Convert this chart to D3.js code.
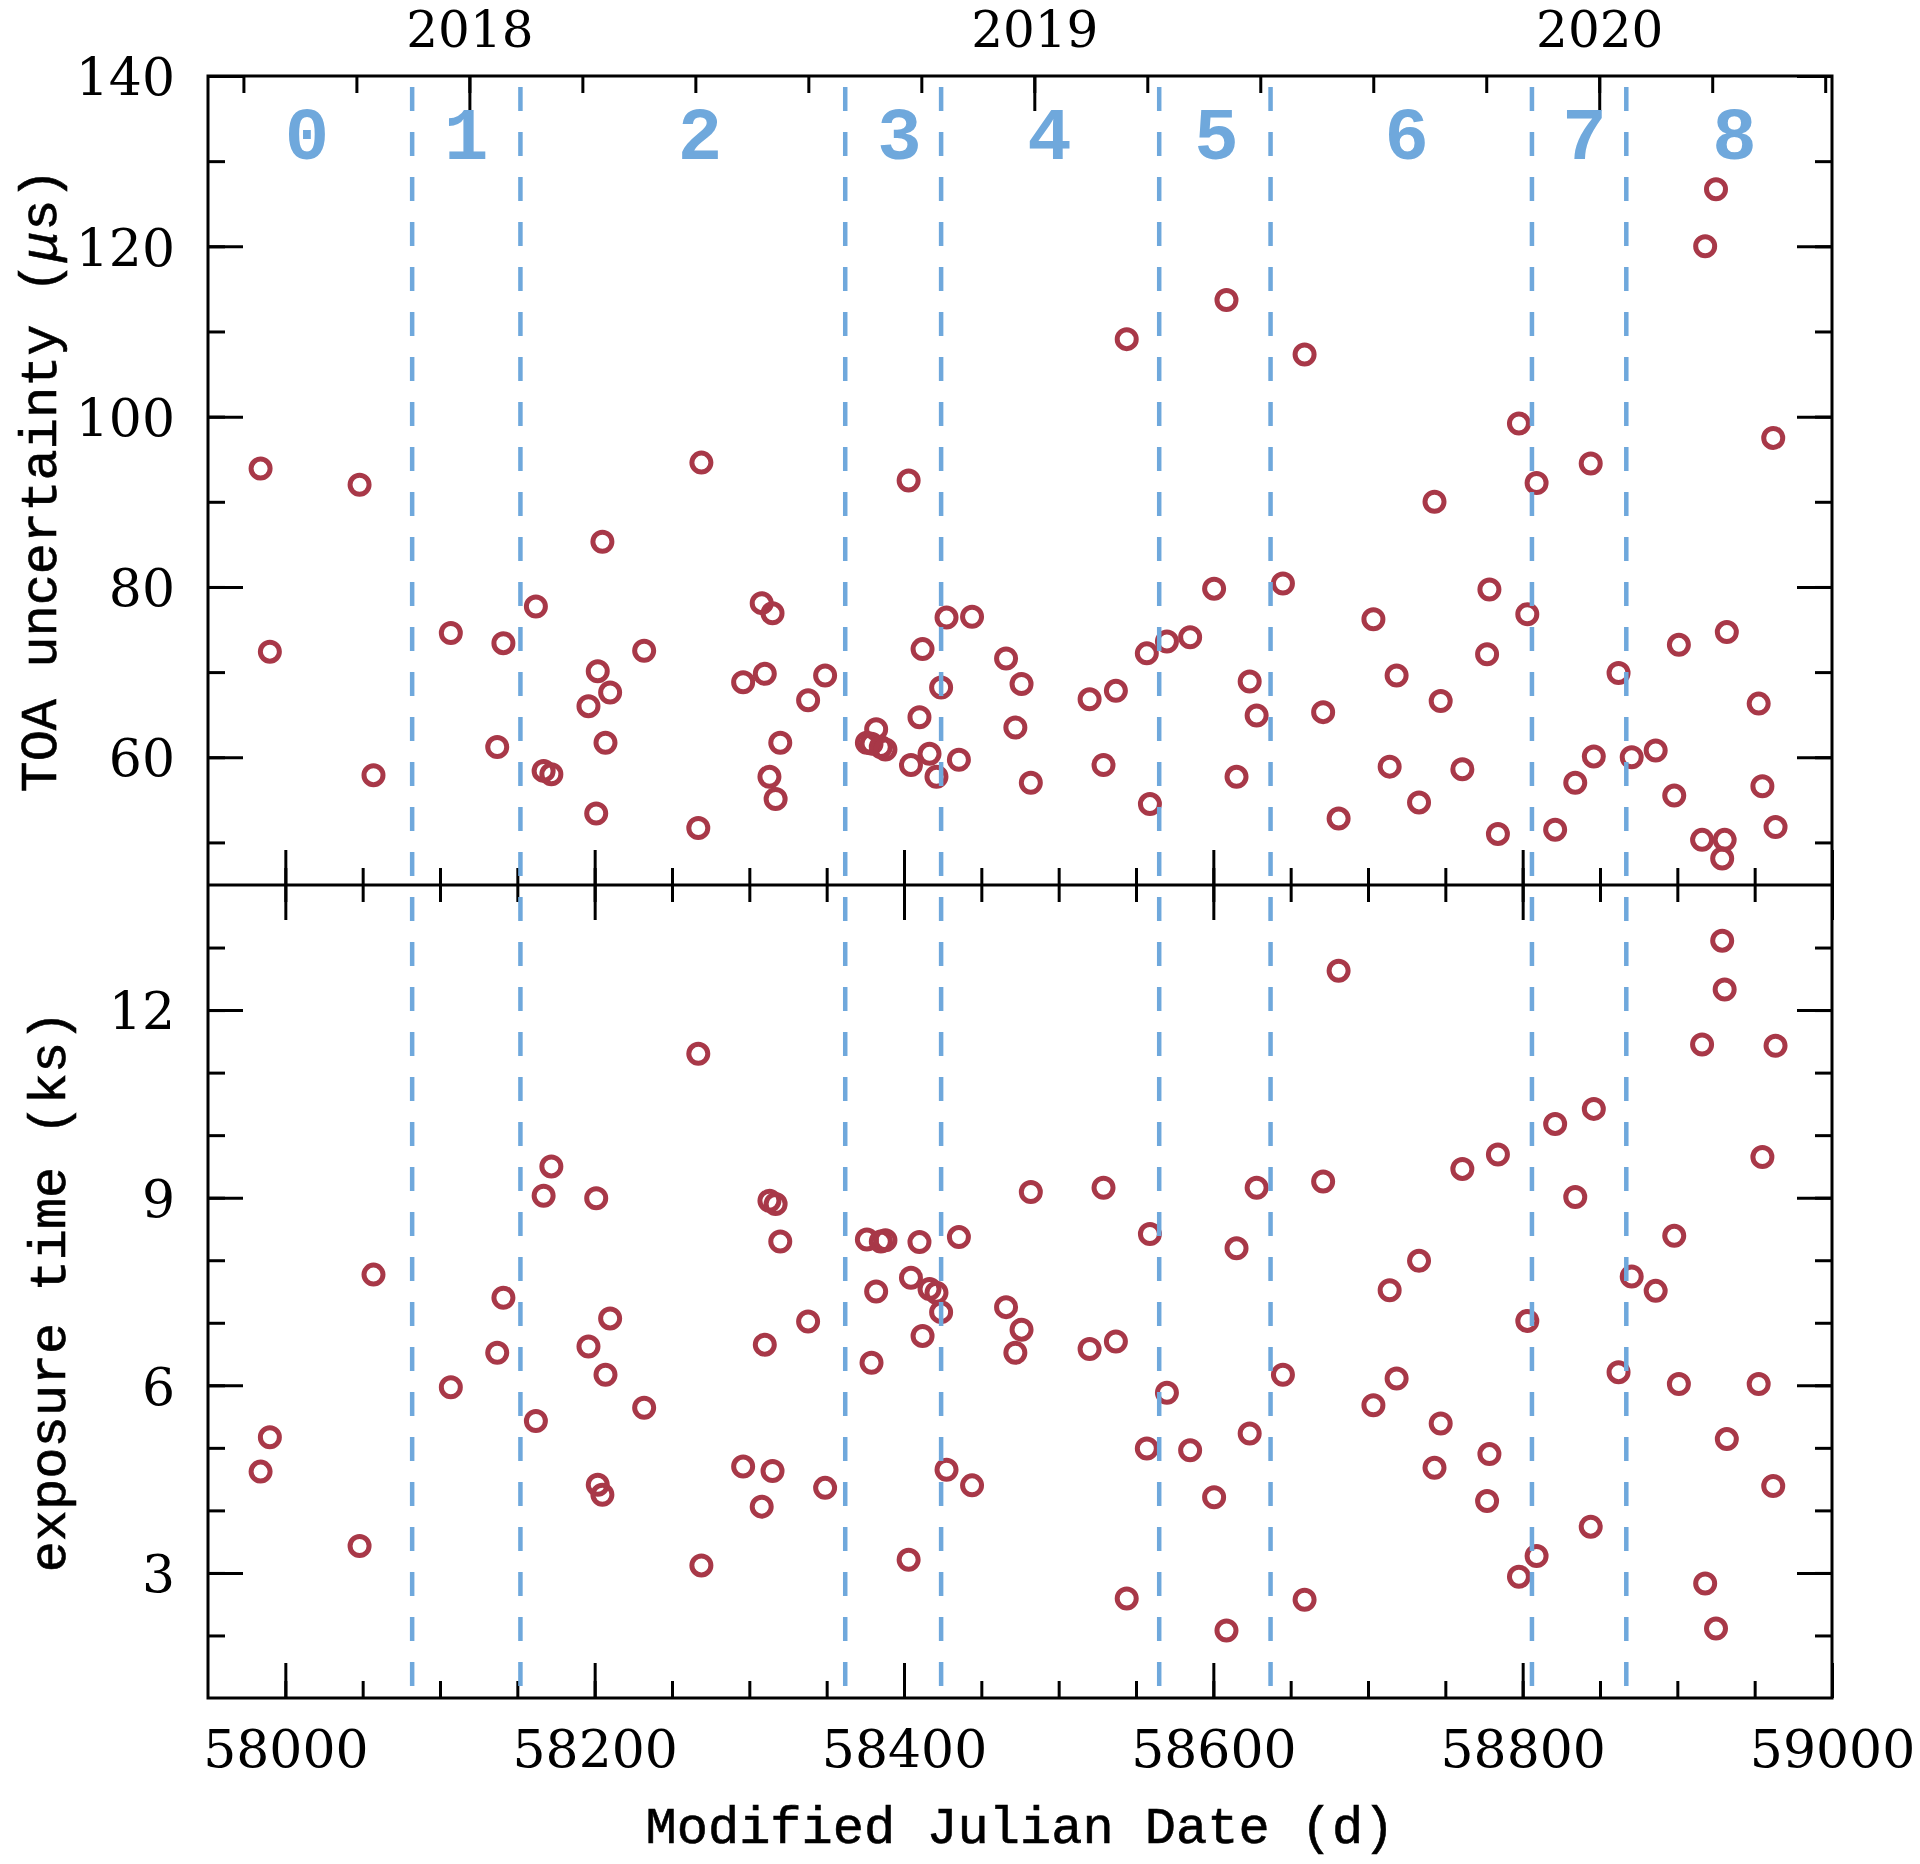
<!DOCTYPE html>
<html>
<head>
<meta charset="utf-8">
<script src="https://cdn.jsdelivr.net/npm/d3@7"></script>
<style>
  body { margin: 0; background: #fff; }
</style>
</head>
<body>
<div id="chart"></div>
<script>
// observation epochs (MJD) and the two measured quantities
const mjd = [57984, 57990, 58048, 58057, 58107, 58137, 58141, 58162, 58167, 58172,
  58196, 58201, 58202, 58205, 58207, 58210, 58232, 58267, 58269, 58296,
  58308, 58310, 58313, 58317, 58315, 58320, 58338, 58349, 58376, 58379,
  58382, 58385, 58388, 58403, 58404.5, 58410, 58412, 58416.5, 58421, 58424,
  58427.5, 58435.5, 58444, 58466, 58472, 58476, 58482, 58520, 58529, 58537,
  58544, 58557, 58559, 58570, 58585, 58600.5, 58608.5, 58615, 58623.5, 58628,
  58645, 58659, 58671, 58681, 58703.5, 58714, 58718.5, 58733, 58743, 58747,
  58761, 58777, 58778.5, 58784, 58797.6, 58803, 58809, 58821, 58834, 58844,
  58846, 58862, 58870.5, 58886, 58898, 58901, 58916, 58918, 58925, 58929,
  58930.6, 58932, 58952.6, 58955, 58962, 58963.5];

const toaErr = [93.9, 72.4, 92.0, 57.9, 74.6, 61.2, 73.4, 77.7, 58.4, 58.0,
  66.0, 53.4, 70.1, 85.3, 61.7, 67.6, 72.5, 51.7, 94.6, 68.8,
  78.1, 69.8, 57.7, 55.1, 76.9, 61.7, 66.7, 69.6, 61.7, 61.6,
  63.3, 61.2, 60.9, 92.5, 59.1, 64.7, 72.7, 60.4, 57.7, 68.2,
  76.4, 59.7, 76.5, 71.6, 63.5, 68.6, 57.0, 66.8, 59.1, 67.8,
  109.1, 72.2, 54.5, 73.6, 74.1, 79.8, 113.7, 57.7, 68.9, 64.9,
  80.4, 107.3, 65.3, 52.8, 76.2, 58.9, 69.6, 54.7, 90.0, 66.6,
  58.6, 72.1, 79.7, 51.0, 99.2, 76.8, 92.2, 51.5, 57.0, 94.5,
  60.1, 69.9, 60.0, 60.8, 55.5, 73.2, 50.3, 120.0, 126.7, 48.1,
  50.3, 74.7, 66.3, 56.6, 97.5, 51.8];

const expTime = [4.62, 5.17, 3.43, 7.77, 5.97, 6.52, 7.40, 5.43, 9.03, 9.50,
  6.62, 8.99, 4.41, 4.25, 6.17, 7.07, 5.64, 11.30, 3.12, 4.70,
  4.06, 6.65, 8.95, 8.90, 4.63, 8.30, 7.02, 4.36, 8.33, 6.36,
  7.50, 8.30, 8.32, 3.21, 7.72, 8.29, 6.79, 7.54, 7.48, 7.17,
  4.65, 8.37, 4.40, 7.25, 6.52, 6.89, 9.09, 6.58, 9.16, 6.70,
  2.59, 4.99, 8.42, 5.88, 4.96, 4.21, 2.08, 8.19, 5.23, 9.16,
  6.17, 2.57, 9.26, 12.63, 5.68, 7.52, 6.11, 7.99, 4.68, 5.39,
  9.46, 4.15, 4.90, 9.69, 2.94, 7.03, 3.27, 10.18, 9.01, 3.74,
  10.42, 6.21, 7.74, 7.51, 8.39, 6.02, 11.45, 2.83, 2.11, 13.11,
  12.33, 5.14, 6.02, 9.65, 4.39, 11.43];

// segment boundaries and segment labels
const boundaries = [58082, 58152, 58362, 58424, 58565, 58637, 58806, 58867];
const segLabels = ['0', '1', '2', '3', '4', '5', '6', '7', '8'];
const segLabelMjd = [58014, 58117, 58268, 58397, 58494, 58602, 58725, 58840, 58937];

// axis ticks
const mjdTicks = [58000, 58200, 58400, 58600, 58800, 59000];
const yearTicks = [2018, 2019, 2020];
const toaTicks = [60, 80, 100, 120, 140];
const expTicks = [3, 6, 9, 12];

const W = 1920, H = 1864;
const red = '#a83848', blue = '#6fa8dc';

const svg = d3.select('#chart').append('svg')
    .attr('width', W)
    .attr('height', H);

const x = d3.scaleLinear().domain([57950, 59000]).range([208, 1832]);
const yToa = d3.scaleLinear().domain([45, 140]).range([885, 76]);
const yExp = d3.scaleLinear().domain([1, 14]).range([1698, 885]);

// calendar years for the top axis
const mjdOfYear = d3.scaleLinear().domain([2018, 2020]).range([58119, 58849.5]);
const xYear = d3.scaleLinear()
    .domain(x.domain().map(mjdOfYear.invert))
    .range(x.range());

const numFont = "'DejaVu Serif', serif";
const txtFont = "'Liberation Mono', monospace";

function ticks(gen, scale, values, size, at, labels, pad) {
  const g = svg.append('g')
      .attr('transform', at)
      .call(gen(scale)
        .tickValues(values)
        .tickSize(size)
        .tickPadding(pad || 0)
        .tickFormat(labels ? d3.format('d') : ''));
  g.select('.domain').remove();
  g.selectAll('line').attr('stroke', '#000').attr('stroke-width', 3);
  g.attr('font-family', numFont).attr('font-size', 52);
  g.selectAll('text').attr('fill', '#000');
  return g;
}

const mjdMinor = d3.range(58000, 59000, 50);
const yearMinor = d3.range(2017.6, 2020.41, 0.2);
const toaMinor = d3.range(50, 140, 10);
const expMinor = d3.range(2, 14, 1);

const xB = 1698, xM = 885, xT = 76, yL = 208, yR = 1832;

// bottom axis of lower panel
ticks(d3.axisBottom, x, mjdMinor, -17, `translate(0,${xB})`);
const bottomAx = ticks(d3.axisBottom, x, mjdTicks, -35, `translate(0,${xB})`, true);
bottomAx.selectAll('text').attr('dy', 0).attr('y', 69);

// shared middle line: ticks into both panels
ticks(d3.axisBottom, x, mjdMinor, -17, `translate(0,${xM})`);
ticks(d3.axisBottom, x, mjdTicks, -35, `translate(0,${xM})`);
ticks(d3.axisTop, x, mjdMinor, -17, `translate(0,${xM})`);
ticks(d3.axisTop, x, mjdTicks, -35, `translate(0,${xM})`);

// top axis in calendar years
ticks(d3.axisTop, xYear, yearMinor, -17, `translate(0,${xT})`);
const topAx = ticks(d3.axisTop, xYear, yearTicks, -35, `translate(0,${xT})`, true);
topAx.attr('font-size', 50);
topAx.selectAll('text').attr('dy', 0).attr('y', -29);

// left and right axes
ticks(d3.axisLeft, yToa, toaMinor, -17, `translate(${yL},0)`);
ticks(d3.axisLeft, yToa, toaTicks, -35, `translate(${yL},0)`, true, 33)
    .selectAll('text').attr('dy', '0.36em');
ticks(d3.axisRight, yToa, toaMinor, -17, `translate(${yR},0)`);
ticks(d3.axisRight, yToa, toaTicks, -35, `translate(${yR},0)`);

ticks(d3.axisLeft, yExp, expMinor, -17, `translate(${yL},0)`);
ticks(d3.axisLeft, yExp, expTicks, -35, `translate(${yL},0)`, true, 33)
    .selectAll('text').attr('dy', '0.36em');
ticks(d3.axisRight, yExp, expMinor, -17, `translate(${yR},0)`);
ticks(d3.axisRight, yExp, expTicks, -35, `translate(${yR},0)`);

// points
const pts = mjd.map((d, i) => ({ t: d, toa: toaErr[i], exp: expTime[i] }));

svg.append('g').selectAll('circle')
  .data(pts).join('circle')
    .attr('cx', d => x(d.t))
    .attr('cy', d => yToa(d.toa))
    .attr('r', 9.5)
    .attr('fill', 'none')
    .attr('stroke', red)
    .attr('stroke-width', 5);

svg.append('g').selectAll('circle')
  .data(pts).join('circle')
    .attr('cx', d => x(d.t))
    .attr('cy', d => yExp(d.exp))
    .attr('r', 9.5)
    .attr('fill', 'none')
    .attr('stroke', red)
    .attr('stroke-width', 5);

// segment boundaries
svg.append('g').selectAll('line')
  .data(boundaries).join('line')
    .attr('x1', d => x(d)).attr('x2', d => x(d))
    .attr('y1', xT).attr('y2', xB)
    .attr('stroke', blue)
    .attr('stroke-width', 4.5)
    .attr('stroke-dasharray', '24,21')
    .attr('stroke-dashoffset', 34);

svg.append('g').selectAll('text')
  .data(segLabels).join('text')
    .attr('x', (d, i) => x(segLabelMjd[i]))
    .attr('y', 159)
    .attr('text-anchor', 'middle')
    .attr('font-family', txtFont)
    .attr('font-weight', 'bold')
    .attr('font-size', 74)
    .attr('fill', blue)
    .text(d => d);

// frame
svg.append('rect')
    .attr('x', yL).attr('y', xT)
    .attr('width', yR - yL).attr('height', xB - xT)
    .attr('fill', 'none').attr('stroke', '#000').attr('stroke-width', 3);
svg.append('line')
    .attr('x1', yL).attr('x2', yR).attr('y1', xM).attr('y2', xM)
    .attr('stroke', '#000').attr('stroke-width', 3);

// axis titles
const title = (sel) => sel
    .attr('font-family', txtFont)
    .attr('font-size', 52)
    .attr('text-anchor', 'middle')
    .attr('fill', '#000')
    .attr('stroke', '#000')
    .attr('stroke-width', 0.6);

svg.append('text').call(title)
    .attr('x', (yL + yR) / 2).attr('y', 1843)
    .text('Modified Julian Date (d)');

const t1 = svg.append('text').call(title)
    .attr('transform', `translate(56,${(xT + xM) / 2}) rotate(-90)`);
t1.append('tspan').text('TOA uncertainty (');
t1.append('tspan').attr('font-style', 'italic').text('μ');
t1.append('tspan').text('s)');

svg.append('text').call(title)
    .attr('transform', `translate(65,${(xM + xB) / 2}) rotate(-90)`)
    .text('exposure time (ks)');
</script>
</body>
</html>
